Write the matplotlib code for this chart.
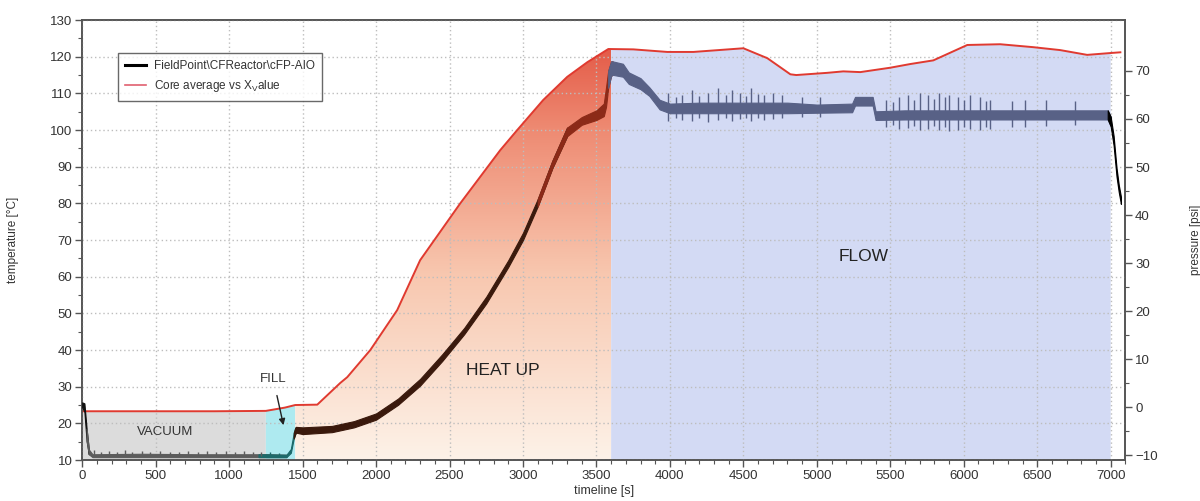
import numpy as np
import matplotlib
matplotlib.use("Agg")
import matplotlib.pyplot as plt
from matplotlib.colors import LinearSegmentedColormap
from matplotlib.ticker import MultipleLocator, FixedLocator

plt.rcParams['font.family'] = ['Liberation Sans', 'DejaVu Sans']

# ---- temperature (left axis) : core average vs X_value ----
temp_t = [0, 300, 600, 900, 1250, 1380, 1450, 1600, 1756, 1804, 1961, 2144, 2300,
          2573, 2845, 2961, 3138, 3301, 3438, 3581, 3751, 3982, 4160, 4500, 4663,
          4820, 4860, 5071, 5180, 5296, 5500, 5636, 5793, 6024, 6248, 6473, 6657,
          6840, 6998, 7066]
temp_v = [23.3, 23.3, 23.3, 23.3, 23.4, 24.3, 25.0, 25.1, 31.0, 32.6, 40.0, 50.9, 64.5,
          80.0, 94.5, 100.0, 108.2, 114.5, 118.5, 122.1, 122.0, 121.3, 121.3, 122.3, 119.6,
          115.2, 115.0, 115.6, 116.0, 115.8, 117.0, 118.0, 119.0, 123.2, 123.4, 122.6, 121.8,
          120.5, 121.0, 121.2]

# ---- pressure (right axis) : FieldPoint\CFReactor\cFP-AIO (noise envelope) ----
pres_t = [0, 15, 30, 45, 70, 400, 800, 1200, 1250, 1390, 1420, 1440, 1450, 1455, 1500,
          1700, 1850, 2000, 2150, 2300, 2450, 2600, 2750, 2900, 3000, 3100, 3200,
          3300, 3400, 3500, 3550, 3565, 3580, 3600, 3610, 3680, 3720, 3800, 3860,
          3930, 4000, 4200, 4400, 4600, 4800, 5000, 5240, 5260, 5380, 5400, 5600,
          5800, 6000, 6200, 6400, 6600, 6800, 6980, 7000, 7020, 7040, 7055, 7070]
pres_lo = [0.0, -1.0, -7.0, -9.8, -10.4, -10.4, -10.4, -10.4, -10.4, -10.4, -9.5, -6.5, -5.6, -5.3, -5.6,
           -5.2, -4.2, -2.6, 0.5, 4.5, 9.6, 15.2, 21.6, 29.2, 34.8, 41.8, 49.8,
           56.4, 58.8, 59.8, 60.6, 62.5, 66.5, 69.0, 69.2, 68.8, 67.3, 66.2, 64.8,
           62.0, 61.2, 61.2, 61.2, 61.2, 61.2, 61.3, 61.4, 62.8, 62.8, 59.8, 59.9,
           59.9, 59.9, 59.9, 59.9, 59.9, 59.9, 59.9, 58.5, 54.5, 48.0, 44.8, 42.3]
pres_hi = [1.0, 0.8, -4.5, -8.8, -9.8, -9.7, -9.8, -9.8, -9.8, -9.9, -8.7, -5.3, -4.3, -4.1, -4.2,
           -3.9, -2.9, -1.3, 1.8, 5.9, 11.0, 16.5, 23.0, 30.6, 36.3, 43.3, 51.3,
           58.2, 60.4, 61.8, 63.2, 66.5, 70.0, 72.0, 72.0, 71.5, 69.7, 68.5, 66.6,
           64.0, 63.2, 63.4, 63.4, 63.4, 63.4, 63.0, 63.2, 64.6, 64.6, 61.6, 61.8,
           61.8, 61.8, 61.8, 61.8, 61.8, 61.8, 61.8, 60.5, 56.5, 49.8, 46.3, 43.8]
# visible noise spikes during flow
spike_t = [3990, 4040, 4080, 4150, 4200, 4260, 4330, 4380, 4420, 4480, 4520, 4550, 4600, 4640,
           4700, 4760, 4900, 5020, 5470, 5520, 5560, 5620, 5660, 5700, 5760, 5800, 5830, 5870,
           5900, 5960, 6000, 6040, 6110, 6150, 6180, 6330, 6420, 6560, 6760]
spike_lo = [59.5, 60.2, 59.8, 59.6, 60.3, 59.4, 59.8, 60.2, 59.5, 60.0, 60.2, 59.5, 60.2, 59.8,
            60.0, 60.2, 60.5, 60.5, 58.3, 58.8, 58.0, 58.2, 58.6, 57.8, 58.0, 58.5, 57.8, 58.4,
            57.6, 57.8, 58.4, 58.0, 57.8, 58.4, 58.0, 58.3, 58.3, 58.5, 58.7]
spike_hi = [65.5, 64.5, 65.0, 66.0, 64.8, 65.5, 66.5, 65.0, 66.0, 65.5, 64.8, 66.5, 65.2, 65.0,
            65.5, 65.0, 64.5, 64.5, 64.0, 63.5, 64.5, 65.0, 64.0, 65.5, 65.0, 64.2, 65.5, 64.5,
            65.0, 64.5, 64.0, 65.0, 64.5, 63.8, 64.0, 63.8, 64.0, 64.0, 63.8]
# small noise spikes during vacuum
vspike_t = [80, 130, 180, 240, 290, 340, 410, 460, 530, 600, 660, 720, 790, 850, 910, 980,
            1040, 1100, 1160, 1220, 1280, 1340]
vspike_hi = [-9.0, -9.3, -9.1, -9.4, -8.9, -9.3, -9.2, -9.4, -9.1, -9.3, -9.4, -9.2, -9.3,
             -9.1, -9.4, -9.2, -9.3, -9.1, -9.3, -9.4, -9.4, -9.5]

# phases
phase_bounds = [0, 1250, 1450, 3600, 7000]
phase_names = ["VACUUM", "FILL", "HEAT UP", "FLOW"]

fig = plt.figure(figsize=(12, 5.01), dpi=100)
ax1 = fig.add_axes([0.0685, 0.0818, 0.8693, 0.8782])
ax2 = ax1.twinx()

tt = np.array(temp_t, float)
tv = np.array(temp_v, float)

def region(a, b):
    m = (tt > a) & (tt < b)
    x = np.concatenate([[a], tt[m], [b]])
    y = np.concatenate([[np.interp(a, tt, tv)], tv[m], [np.interp(b, tt, tv)]])
    return x, y

# vacuum (grey), fill (cyan), flow (blue)
x, y = region(phase_bounds[0], phase_bounds[1])
ax1.fill_between(x, 10, y, facecolor='#dcdcdc', edgecolor='none', zorder=1)
x, y = region(phase_bounds[1], phase_bounds[2])
ax1.fill_between(x, 10, y, facecolor='#aeeaf0', edgecolor='none', zorder=1)
x, y = region(phase_bounds[3], phase_bounds[4])
ax1.fill_between(x, 10, y, facecolor='#d3daf4', edgecolor='none', zorder=1)

# heat-up gradient
x, y = region(phase_bounds[2], phase_bounds[3])
poly = ax1.fill_between(x, 10, y, facecolor='none', edgecolor='none', zorder=1)
cmap = LinearSegmentedColormap.from_list('heat', [(0.0, '#fdf2e8'), (0.45, '#f8c7af'),
                                                  (0.8, '#ee8a72'), (1.0, '#e45a47')])
grad = np.linspace(0, 1, 256).reshape(-1, 1)
im = ax1.imshow(grad, extent=[phase_bounds[2], phase_bounds[3], 10, 123], origin='lower',
                aspect='auto', cmap=cmap, zorder=1)
im.set_clip_path(poly.get_paths()[0], transform=ax1.transData)

# temperature line
ax1.plot(temp_t, temp_v, color='#e03a30', lw=1.4, zorder=4)

# pressure band, coloured per phase
pt = np.array(pres_t, float)
plo = np.array(pres_lo, float)
phi = np.array(pres_hi, float)
seg_cols = [(0, 40, '#111111'), (40, 1250, '#5c5c5c'), (1250, 1450, '#1d6a6a'),
            (1450, 3200, '#3a190c'), (3200, 3600, '#8c2a18'), (3600, 6990, '#586186'),
            (6990, 7100, '#000000')]
for a, b, c in seg_cols:
    idx = np.where((pt >= a) & (pt <= b))[0]
    if len(idx) == 0:
        lo_i = np.searchsorted(pt, a) - 1
        hi_i = lo_i + 1
    else:
        lo_i = max(idx[0] - 1, 0)
        hi_i = min(idx[-1] + 1, len(pt) - 1)
    sl = slice(lo_i, hi_i + 1)
    ax2.fill_between(pt[sl], plo[sl], phi[sl], facecolor=c, edgecolor=c, lw=0.8, zorder=3)
ax2.vlines(spike_t, spike_lo, spike_hi, color='#586186', lw=1.0, zorder=3)
vcols = ['#1d6a6a' if t >= phase_bounds[1] else '#5c5c5c' for t in vspike_t]
ax2.vlines(vspike_t, -10.2, vspike_hi, color=vcols, lw=1.0, zorder=3)

# axes limits & ticks
ax1.set_xlim(0, 7100)
ax1.set_ylim(10, 130)
ax2.set_ylim(-11.0, 80.6)
ax1.xaxis.set_major_locator(MultipleLocator(500))
ax1.xaxis.set_minor_locator(MultipleLocator(100))
ax1.yaxis.set_major_locator(MultipleLocator(10))
ax1.yaxis.set_minor_locator(MultipleLocator(5))
ax2.yaxis.set_major_locator(FixedLocator(list(range(-10, 71, 10))))
ax2.yaxis.set_minor_locator(FixedLocator(list(range(-5, 66, 10))))

tick_col = '#333333'
for ax in (ax1, ax2):
    ax.tick_params(which='major', length=5, width=1.0, color='#555555', labelsize=9.5,
                   labelcolor=tick_col, pad=2)
    ax.tick_params(which='minor', length=3, width=0.8, color='#555555')
    for s in ax.spines.values():
        s.set_color('#555555')
        s.set_linewidth(1.2)

ax1.grid(True, which='major', color='#bdbdbd', linestyle=(0, (1, 2)), lw=1.0)
ax1.set_axisbelow(False)
for gl in ax1.get_xgridlines() + ax1.get_ygridlines():
    gl.set_zorder(2)

ax1.set_xlabel('timeline [s]', fontsize=9, color=tick_col, labelpad=2)
ax1.set_ylabel('temperature [°C]', fontsize=8.5, color=tick_col)
ax1.yaxis.set_label_coords(-0.061, 0.5)
ax2.set_ylabel('pressure [psi]', fontsize=8.5, color=tick_col, rotation=90)
ax2.yaxis.set_label_coords(1.062, 0.5)

# phase labels
ax1.text(565, 17.6, phase_names[0], fontsize=9.5, color='#333333', ha='center', va='center', zorder=6)
ax1.annotate(phase_names[1], xy=(1370, 19.5), xytext=(1300, 32.2), fontsize=9.5,
             color='#333333', ha='center', va='center', zorder=6,
             arrowprops=dict(arrowstyle='-|>', color='#222222', lw=1.0,
                             shrinkA=6, shrinkB=0, mutation_scale=9))
ax1.text(2866, 34.5, phase_names[2], fontsize=12.5, color='#222222', ha='center', va='center', zorder=6)
ax1.text(5316, 65.4, phase_names[3], fontsize=12.5, color='#222222', ha='center', va='center', zorder=6)

# legend
h1, = ax2.plot([], [], color='black', lw=2.2)
h2, = ax2.plot([], [], color='#e06070', lw=1.2)
leg = ax2.legend([h1, h2], [r'FieldPoint\CFReactor\cFP-AIO', r'Core average vs X$_\mathregular{V}$alue'],
                 loc='upper left', bbox_to_anchor=(0.034, 0.925), borderaxespad=0,
                 fontsize=8.5, frameon=True, fancybox=False, handlelength=1.8,
                 borderpad=0.6, labelspacing=0.5, handletextpad=0.7)
leg.get_frame().set_edgecolor('#444444')
leg.get_frame().set_linewidth(1.0)
for t in leg.get_texts():
    t.set_color('#333333')
leg.set_zorder(10)

fig.savefig('out.png', dpi=100)
